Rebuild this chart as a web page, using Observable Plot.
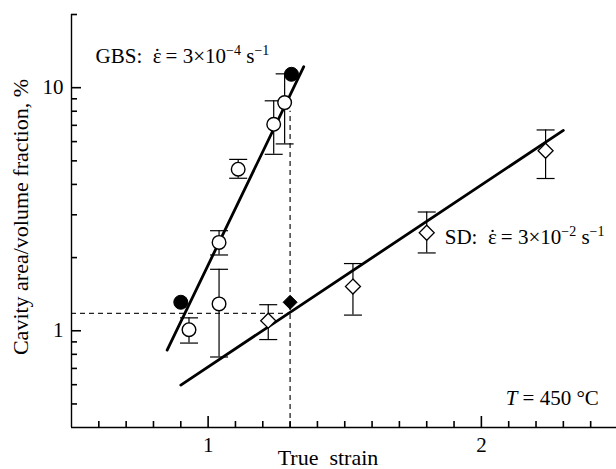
<!DOCTYPE html>
<html><head><meta charset="utf-8">
<script src="https://cdn.jsdelivr.net/npm/d3@7"></script>
<script src="https://cdn.jsdelivr.net/npm/@observablehq/plot@0.6"></script>
<style>body{margin:0;background:#fff} #chart svg{display:block;background:#fff}</style>
</head><body><div id="chart"></div>
<script>
// GBS (grain boundary sliding) — open circles with error bars
const gbsStrain = [0.93, 1.04, 1.04, 1.11, 1.24, 1.28];
const gbsValue  = [1.01, 2.31, 1.29, 4.62, 7.07, 8.68];
const gbsLow    = [0.89, 2.05, 0.78, 4.24, 5.32, 5.87];
const gbsHigh   = [1.13, 2.58, 1.79, 5.07, 8.83, 11.4];
// GBS filled circles
const gbsSolidStrain = [0.90, 1.305];
const gbsSolidValue  = [1.31, 11.35];
// SD — open diamonds with error bars
const sdStrain = [1.22, 1.53, 1.80, 2.235];
const sdValue  = [1.10, 1.52, 2.53, 5.50];
const sdLow    = [0.92, 1.16, 2.09, 4.23];
const sdHigh   = [1.28, 1.89, 3.08, 6.70];
// SD filled diamond
const sdSolidStrain = [1.30];
const sdSolidValue  = [1.31];
// fitted lines (end points)
const gbsFitStrain = [0.85, 1.35];
const gbsFitValue  = [0.833, 12.2];
const sdFitStrain  = [0.90, 2.30];
const sdFitValue   = [0.598, 6.67];
// dashed guide (intersection)
const guideStrain = [1.30];
const guideValue  = [1.18];
const guideTop    = [8.0];
// axis extents and ticks
const xDomain = [0.5, 2.5];
const yDomain = [0.4, 20];
const xMajor = [1, 2];
const xMinor = [0.6,0.7,0.8,0.9,1.1,1.2,1.3,1.4,1.5,1.6,1.7,1.8,1.9,2.1,2.2,2.3,2.4];
const yMajor = [1, 10];
const yMinor = [0.5,0.6,0.7,0.8,0.9,2,3,4,5,6,7,8,9,20];
// texts
const xTitle = "True  strain";
const yTitle = "Cavity area/volume fraction, %";
const gbsName = "GBS:  ";
const sdName = "SD:  ";
const epsChar = "ε";
const dotChar = "˙";
const rateText = " = 3×10";
const gbsExp = "−4";
const sdExp = "−2";
const unitText = " s";
const unitExp = "−1";
const tempVar = "T";
const tempText = " = 450 °C";

// layout
const W = 616, H = 469;
const xRange = [71, 617.5];
const yRange = [427, 14];
const pxPerX = (xRange[1] - xRange[0]) / (xDomain[1] - xDomain[0]);
const pxPerDecade = (yRange[0] - yRange[1]) / Math.log10(yDomain[1] / yDomain[0]);
const majorLenX = 11, minorLen = 6, majorLenY = 10;

const gbs = gbsStrain.map((x,i)=>({x, v:gbsValue[i], lo:gbsLow[i], hi:gbsHigh[i]}));
const sd = sdStrain.map((x,i)=>({x, v:sdValue[i], lo:sdLow[i], hi:sdHigh[i]}));
const gbsSolid = gbsSolidStrain.map((x,i)=>({x, v:gbsSolidValue[i]}));
const sdSolid = sdSolidStrain.map((x,i)=>({x, v:sdSolidValue[i]}));
const gbsFit = gbsFitStrain.map((x,i)=>({x, v:gbsFitValue[i]}));
const sdFit = sdFitStrain.map((x,i)=>({x, v:sdFitValue[i]}));
const guide = guideStrain.map((x,i)=>({x, v:guideValue[i], top:guideTop[i]}));
// inward tick segments expressed through the scales
const xTicks = [...xMajor.map(t => ({x: t, len: majorLenX})), ...xMinor.map(t => ({x: t, len: minorLen}))]
  .map(d => ({x: d.x, y1: yDomain[0], y2: yDomain[0] * Math.pow(10, d.len / pxPerDecade)}));
const yTicks = [...yMajor.map(t => ({y: t, len: majorLenY})), ...yMinor.map(t => ({y: t, len: minorLen}))]
  .map(d => ({y: d.y, x1: xDomain[0], x2: xDomain[0] + d.len / pxPerX}));

const capSymbol = {draw(ctx, size){ const w = Math.sqrt(size/Math.PI); ctx.moveTo(-w,0); ctx.lineTo(w,0); }};
const diamondSymbol = {draw(ctx, size){ const h = Math.sqrt(size/Math.PI); ctx.moveTo(0,-h); ctx.lineTo(h,0); ctx.lineTo(0,h); ctx.lineTo(-h,0); ctx.closePath(); }};

const font = "Liberation Serif, Times New Roman, serif";

const plot = Plot.plot({
  width: W,
  height: H,
  marginLeft: 71, marginTop: 14, marginBottom: 42, marginRight: 0,
  style: {fontFamily: font, fontSize: "21px", background: "#fff", color: "#000"},
  x: {domain: xDomain, range: xRange},
  y: {type: "log", domain: yDomain, range: yRange},
  marks: [
    // dashed guides
    Plot.ruleY(guide, {y: "v", x1: xDomain[0], x2: "x", stroke: "#222", strokeWidth: 1.3, strokeDasharray: "5,4"}),
    Plot.ruleX(guide, {x: "x", y1: yDomain[0], y2: "top", stroke: "#222", strokeWidth: 1.3, strokeDasharray: "5,4"}),
    // error bars
    Plot.ruleX(gbs, {x: "x", y1: "lo", y2: "hi", stroke: "#000", strokeWidth: 1.2}),
    Plot.ruleX(sd, {x: "x", y1: "lo", y2: "hi", stroke: "#000", strokeWidth: 1.2}),
    Plot.dot(gbs, {x: "x", y: "lo", symbol: capSymbol, r: 9, stroke: "#000", strokeWidth: 1.2, fill: "none"}),
    Plot.dot(gbs, {x: "x", y: "hi", symbol: capSymbol, r: 9, stroke: "#000", strokeWidth: 1.2, fill: "none"}),
    Plot.dot(sd, {x: "x", y: "lo", symbol: capSymbol, r: 9, stroke: "#000", strokeWidth: 1.2, fill: "none"}),
    Plot.dot(sd, {x: "x", y: "hi", symbol: capSymbol, r: 9, stroke: "#000", strokeWidth: 1.2, fill: "none"}),
    // fit lines
    Plot.line(gbsFit, {x: "x", y: "v", stroke: "#000", strokeWidth: 2.8}),
    Plot.line(sdFit, {x: "x", y: "v", stroke: "#000", strokeWidth: 2.8}),
    // markers
    Plot.dot(gbs, {x: "x", y: "v", r: 6.8, fill: "#fff", stroke: "#000", strokeWidth: 1.4}),
    Plot.dot(gbsSolid, {x: "x", y: "v", r: 7, fill: "#000", stroke: "#000", strokeWidth: 1}),
    Plot.dot(sd, {x: "x", y: "v", symbol: diamondSymbol, r: 7.5, fill: "#fff", stroke: "#000", strokeWidth: 1.3}),
    Plot.dot(sdSolid, {x: "x", y: "v", symbol: diamondSymbol, r: 7, fill: "#000", stroke: "#000", strokeWidth: 1}),
    // axes lines
    Plot.ruleY([yDomain[0]], {stroke: "#000", strokeWidth: 1.4}),
    Plot.ruleX([xDomain[0]], {stroke: "#000", strokeWidth: 1.4}),
    // inward ticks
    Plot.ruleX(xTicks, {x: "x", y1: "y1", y2: "y2", stroke: "#000", strokeWidth: 1.6}),
    Plot.ruleY(yTicks, {y: "y", x1: "x1", x2: "x2", stroke: "#000", strokeWidth: 1.6}),
    // tick labels
    Plot.axisX(xMajor, {tickSize: 0, tickPadding: 10, fontSize: 21, tickFormat: d => String(d), label: null}),
    Plot.axisY(yMajor, {tickSize: 0, tickPadding: 8, fontSize: 21, tickFormat: d => String(d), label: null}),
    // titles
    Plot.text([xTitle], {frameAnchor: "bottom", textAnchor: "middle", dx: -16, dy: 37, fontSize: 22, text: d => d}),
    Plot.text([yTitle], {frameAnchor: "left", textAnchor: "middle", rotate: -90, dx: -51, dy: -4, fontSize: 22, text: d => d}),
    // annotations (rebuilt with superscripts below)
    Plot.text([gbsName], {x: 0.588, y: 13.5, textAnchor: "start", fontSize: 21, text: d => d}),
    Plot.text([sdName], {x: 1.866, y: 2.43, textAnchor: "start", fontSize: 21, text: d => d}),
    Plot.text([tempText], {x: 2.43, y: 0.53, textAnchor: "end", fontSize: 21, text: d => d})
  ]
});

const svg = d3.select(plot);
svg.selectAll("text").style("white-space", "pre");
function findText(s) { return svg.selectAll("text").filter(function(){ return this.textContent === s; }); }
function rate(name, exp) {
  const t = findText(name);
  t.text(null);
  t.append("tspan").text(name + epsChar);
  t.append("tspan").attr("dx", "-0.37em").text(dotChar);
  t.append("tspan").attr("dx", "-0.02em").text(rateText);
  t.append("tspan").attr("dy", -8).attr("font-size", 14).text(exp);
  t.append("tspan").attr("dy", 8).text(unitText);
  t.append("tspan").attr("dy", -8).attr("font-size", 14).text(unitExp);
}
rate(gbsName, gbsExp);
rate(sdName, sdExp);
{
  const t = findText(tempText);
  t.text(null);
  t.append("tspan").attr("font-style", "italic").text(tempVar);
  t.append("tspan").text(tempText);
}
document.getElementById("chart").appendChild(plot);
</script>
</body></html>
